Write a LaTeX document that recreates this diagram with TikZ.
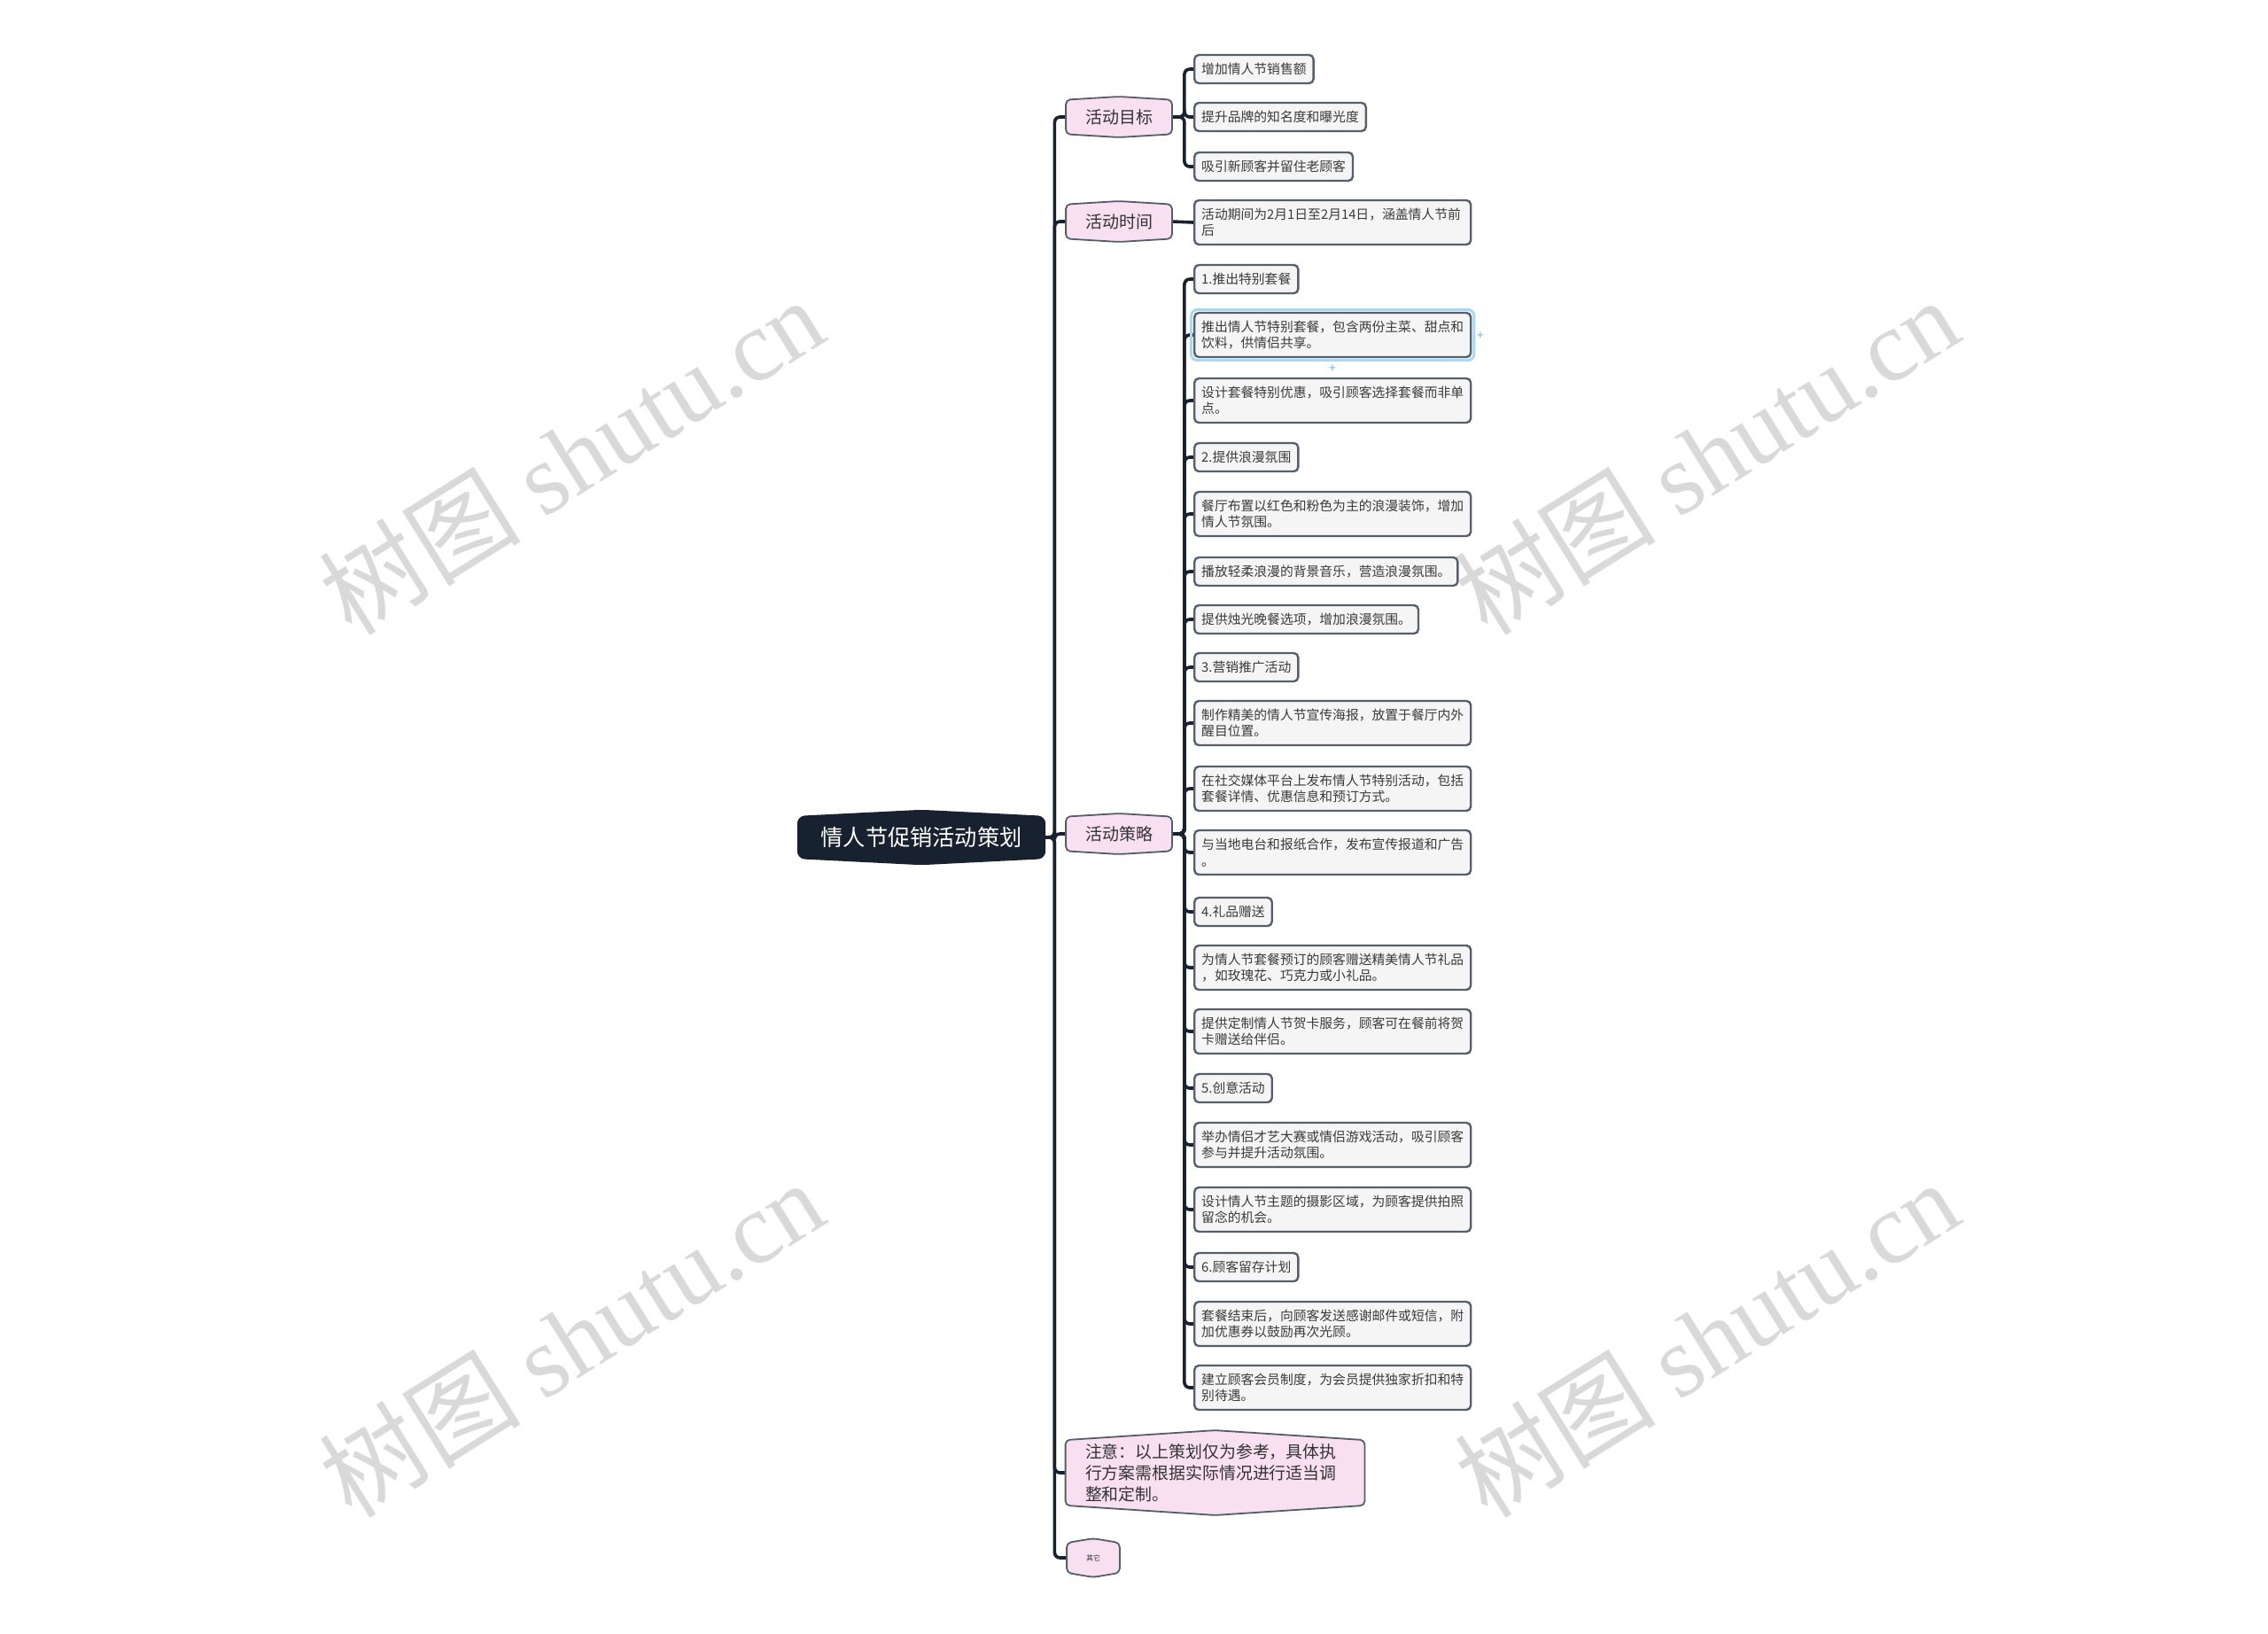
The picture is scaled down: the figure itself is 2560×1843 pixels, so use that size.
\documentclass[tikz,border=0pt]{standalone}
\usepackage{fontspec}
\setmainfont{Noto Sans CJK SC}
\newfontfamily\wmserif{Liberation Serif}
\usetikzlibrary{backgrounds,calc}
\definecolor{navy}{HTML}{18212F}
\definecolor{pinkf}{HTML}{F8E0F1}
\definecolor{hexedge}{HTML}{555C6A}
\definecolor{leaff}{HTML}{F5F5F5}
\definecolor{leafe}{HTML}{56606D}
\definecolor{leaft}{HTML}{3A3A3A}
\definecolor{wm}{HTML}{D9D9D9}
\definecolor{selblue}{HTML}{A9D8F7}
\definecolor{plusblue}{HTML}{6BB3EA}
\newcommand\hexpath[3]{%
  \path[#1] (#2.north west) -- ([yshift=#3]#2.north) -- (#2.north east) -- (#2.south east) -- ([yshift=-#3]#2.south) -- (#2.south west) -- cycle;}
\begin{document}
\begin{tikzpicture}[x=0.5pt,y=-0.5pt,
  leaf/.style={draw=leafe, fill=leaff, line width=1.2pt, rounded corners=2.5pt, anchor=west,
    inner xsep=4pt, inner ysep=0pt, minimum height=16pt, text=leaft,
    font=\fontsize{7.4pt}{9.2pt}\selectfont},
  leaftwo/.style={leaf, text width=148pt, align=left, minimum height=25pt},
  lone/.style={inner sep=0pt, minimum width=59.5pt, minimum height=19pt, text=black!80,
    font=\fontsize{9.5pt}{11pt}\selectfont},
  rootn/.style={inner sep=0pt, minimum width=139pt, minimum height=23pt, text=white,
    font=\fontsize{12.6pt}{14pt}\selectfont},
  noten/.style={inner xsep=11pt, inner ysep=1pt, text width=146.5pt, align=left,
    minimum height=36.5pt, text=black!80, font=\fontsize{9.45pt}{12pt}\selectfont},
  hexl/.style={fill=pinkf, draw=hexedge, line width=0.9pt, rounded corners=2.5pt},
  hexroot/.style={fill=navy, draw=navy, line width=0.8pt, rounded corners=4pt},
  conn/.style={draw=navy, line width=1.8pt, rounded corners=3pt},
  wmark/.style={text=wm, rotate=32, font=\fontsize{57pt}{62pt}\selectfont, inner sep=0pt},
  plusn/.style={text=plusblue, font=\fontsize{7pt}{7pt}\selectfont, inner sep=0pt}
]
\useasboundingbox (0,0) rectangle (2560,1843);

% root and level 1
\node[rootn] (root) at (1040,945) {情人节促销活动策划};
\node[lone] (goal) at (1263,132) {活动目标};
\node[lone] (time) at (1263,250) {活动时间};
\node[lone] (strat) at (1263,941) {活动策略};
\node[noten] (note) at (1371.5,1662) {注意：以上策划仅为参考，具体执\\行方案需根据实际情况进行适当调\\整和定制。};
\node[lone, minimum width=29.5pt, minimum height=16.5pt, font=\fontsize{4pt}{5pt}\selectfont] (other) at (1234,1758) {其它};

% goals
\node[leaf] (ga) at (1347,78) {增加情人节销售额};
\node[leaf] (gb) at (1347,132) {提升品牌的知名度和曝光度};
\node[leaf] (gc) at (1347,188) {吸引新顾客并留住老顾客};
% time
\node[leaftwo] (t1) at (1347,251) {活动期间为2月1日至2月14日，涵盖情人节前\\后};
% strategy
\node[leaf] (s1) at (1347,315) {1.推出特别套餐};
\node[leaftwo] (s2) at (1347,378) {推出情人节特别套餐，包含两份主菜、甜点和\\饮料，供情侣共享。};
\node[leaftwo] (s3) at (1347,452) {设计套餐特别优惠，吸引顾客选择套餐而非单\\点。};
\node[leaf] (s4) at (1347,516) {2.提供浪漫氛围};
\node[leaftwo] (s5) at (1347,580) {餐厅布置以红色和粉色为主的浪漫装饰，增加\\情人节氛围。};
\node[leaf] (s6) at (1347,645) {播放轻柔浪漫的背景音乐，营造浪漫氛围。};
\node[leaf] (s7) at (1347,699) {提供烛光晚餐选项，增加浪漫氛围。};
\node[leaf] (s8) at (1347,753) {3.营销推广活动};
\node[leaftwo] (s9) at (1347,816) {制作精美的情人节宣传海报，放置于餐厅内外\\醒目位置。};
\node[leaftwo] (s10) at (1347,890) {在社交媒体平台上发布情人节特别活动，包括\\套餐详情、优惠信息和预订方式。};
\node[leaftwo] (s11) at (1347,962) {与当地电台和报纸合作，发布宣传报道和广告\\。};
\node[leaf] (s12) at (1347,1029) {4.礼品赠送};
\node[leaftwo] (s13) at (1347,1092) {为情人节套餐预订的顾客赠送精美情人节礼品\\，如玫瑰花、巧克力或小礼品。};
\node[leaftwo] (s14) at (1347,1164) {提供定制情人节贺卡服务，顾客可在餐前将贺\\卡赠送给伴侣。};
\node[leaf] (s15) at (1347,1228) {5.创意活动};
\node[leaftwo] (s16) at (1347,1292) {举办情侣才艺大赛或情侣游戏活动，吸引顾客\\参与并提升活动氛围。};
\node[leaftwo] (s17) at (1347,1365) {设计情人节主题的摄影区域，为顾客提供拍照\\留念的机会。};
\node[leaf] (s18) at (1347,1430) {6.顾客留存计划};
\node[leaftwo] (s19) at (1347,1494) {套餐结束后，向顾客发送感谢邮件或短信，附\\加优惠券以鼓励再次光顾。};
\node[leaftwo] (s20) at (1347,1566) {建立顾客会员制度，为会员提供独家折扣和特\\别待遇。};

% selection marks
\node[plusn] (p1) at (1671,379) {+};
\node[plusn] (p2) at (1504,416) {+};

\begin{pgfonlayer}{background}
  \fill[white] (0,0) rectangle (2560,1843);
  % trunk
  \foreach \n in {goal,time,strat,note,other}
    \draw[conn] (root.east) -- ++(11,0) |- (\n.west);
  % goals
  \foreach \n in {ga,gb,gc}
    \draw[conn] (goal.east) -- ++(14,0) |- (\n.west);
  \draw[conn] (time.east) -- (t1.west);
  \foreach \n in {s1,s2,s3,s4,s5,s6,s7,s8,s9,s10,s11,s12,s13,s14,s15,s16,s17,s18,s19,s20}
    \draw[conn] (strat.east) -- ++(14,0) |- (\n.west);
  % shapes
  \hexpath{hexroot}{root}{3.5pt}
  \hexpath{hexl}{goal}{1.8pt}
  \hexpath{hexl}{time}{1.8pt}
  \hexpath{hexl}{strat}{1.8pt}
  \hexpath{hexl}{note}{5.5pt}
  \hexpath{hexl}{other}{2.5pt}
  \draw[selblue, line width=1.5pt, rounded corners=3.5pt]
    ([shift={(-1.2pt,1.2pt)}]s2.north west) rectangle ([shift={(1.2pt,-1.2pt)}]s2.south east);
\end{pgfonlayer}

% watermarks
\node[wmark] (w1) at (645,514) {树图 {\wmserif shutu.cn}};
\node[wmark] (w2) at (1926,514) {树图 {\wmserif shutu.cn}};
\node[wmark] (w3) at (645,1510) {树图 {\wmserif shutu.cn}};
\node[wmark] (w4) at (1926,1510) {树图 {\wmserif shutu.cn}};
\end{tikzpicture}
\end{document}
